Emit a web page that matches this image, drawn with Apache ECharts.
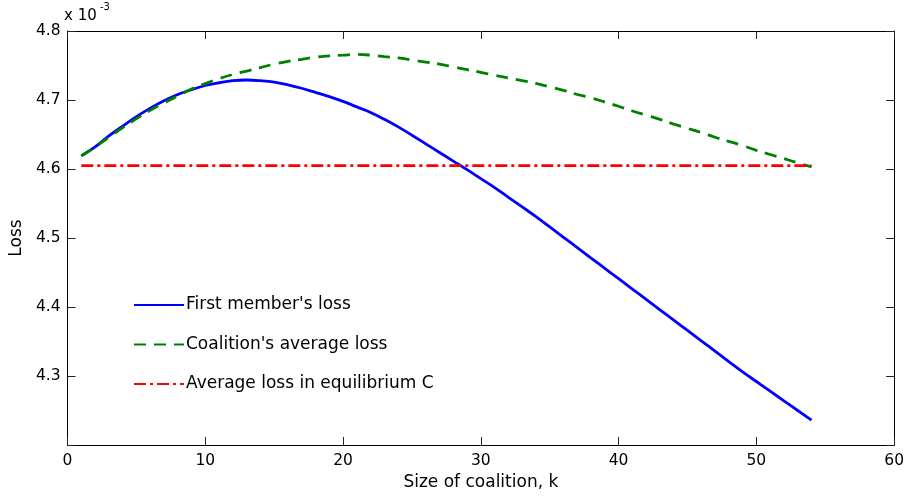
<!DOCTYPE html>
<html>
<head>
<meta charset="utf-8">
<script src="https://cdn.jsdelivr.net/npm/echarts@6/dist/echarts.min.js"></script>
<style>
html,body{margin:0;padding:0;background:#fff;}
#chart{width:907px;height:496px;}
</style>
</head>
<body>
<div id="chart"></div>
<script>
// coalition sizes k = 1..54
const kValues = [1,2,3,4,5,6,7,8,9,10,11,12,13,14,15,16,17,18,19,20,21,22,23,24,25,26,27,
  28,29,30,31,32,33,34,35,36,37,38,39,40,41,42,43,44,45,46,47,48,49,50,51,52,53,54];
// values in units of 1e-3
const firstMemberLoss = [4.619,4.632,4.648,4.662,4.676,4.688,4.699,4.708,4.715,4.721,4.725,4.728,4.729,
  4.728,4.726,4.722,4.717,4.711,4.705,4.698,4.690,4.682,4.672,4.661,4.649,4.6365,4.624,4.6115,4.599,
  4.586,4.573,4.559,4.545,4.531,4.516,4.501,4.486,4.471,4.456,4.441,4.426,4.411,4.396,4.381,4.366,
  4.351,4.336,4.321,4.306,4.292,4.278,4.264,4.250,4.236];
const coalitionAvgLoss = [4.619,4.632,4.646,4.660,4.673,4.685,4.696,4.706,4.716,4.724,4.731,4.737,4.742,
  4.747,4.752,4.756,4.759,4.762,4.764,4.765,4.766,4.765,4.763,4.761,4.758,4.755,4.752,4.748,4.744,
  4.740,4.736,4.732,4.728,4.724,4.719,4.714,4.708,4.703,4.697,4.691,4.684,4.678,4.672,4.665,4.659,
  4.653,4.646,4.640,4.634,4.627,4.621,4.615,4.609,4.603];
const equilibriumLoss = 4.605;
const seriesNames = ["First member's loss", "Coalition's average loss", "Average loss in equilibrium C"];
const xTicks = {min: 0, max: 60, interval: 10};
const yTicks = {min: 4.2, max: 4.8, interval: 0.1};

const FONT = '"DejaVu Sans", sans-serif';
const pair = arr => kValues.map((k, i) => [k, arr[i]]);
const eqArr = kValues.map(() => equilibriumLoss);

const chart = echarts.init(document.getElementById('chart'), null, {renderer: 'canvas'});
const axisLine = {show: true, onZero: false, lineStyle: {color: '#000', width: 1}};
const tick = {show: true, inside: true, length: 8, lineStyle: {color: '#222', width: 1}};
chart.setOption({
  animation: false,
  backgroundColor: '#fff',
  grid: {left: 64, right: 12, top: 31, bottom: 48, containLabel: false},
  xAxis: [{
    type: 'value', min: xTicks.min, max: xTicks.max, interval: xTicks.interval,
    axisLine: axisLine, axisTick: tick, splitLine: {show: false},
    axisLabel: {color: '#000', fontFamily: FONT, fontSize: 15.5, margin: 8},
    name: 'Size of coalition, k', nameLocation: 'middle', nameGap: 29,
    nameTextStyle: {color: '#000', fontFamily: FONT, fontSize: 17}
  }, {
    type: 'value', position: 'top', min: xTicks.min, max: xTicks.max, interval: xTicks.interval,
    axisLine: axisLine, axisTick: tick, axisLabel: {show: false}, splitLine: {show: false}
  }],
  yAxis: [{
    type: 'value', min: yTicks.min, max: yTicks.max, interval: yTicks.interval,
    axisLine: axisLine, axisTick: tick, splitLine: {show: false},
    axisLabel: {color: '#000', fontFamily: FONT, fontSize: 15.5, margin: 7,
      formatter: v => (Math.abs(v - yTicks.min) < 1e-9 ? '' : v.toFixed(1))},
    name: 'Loss', nameLocation: 'middle', nameGap: 41,
    nameTextStyle: {color: '#000', fontFamily: FONT, fontSize: 17}
  }, {
    type: 'value', position: 'right', min: yTicks.min, max: yTicks.max, interval: yTicks.interval,
    axisLine: axisLine, axisTick: tick, axisLabel: {show: false}, splitLine: {show: false}
  }],
  legend: {
    orient: 'vertical', left: 128, top: 290, itemWidth: 50, itemHeight: 20, itemGap: 19.5,
    itemStyle: {opacity: 0},
    textStyle: {color: '#000', fontFamily: FONT, fontSize: 17, lineHeight: 20, padding: [0,0,0,-3]},
    data: seriesNames
  },
  graphic: [
    {type: 'text', left: 64, top: 9, style: {text: 'x 10', fontFamily: FONT, fontSize: 15, fill: '#000'}},
    {type: 'text', left: 100, top: 2, style: {text: '-3', fontFamily: FONT, fontSize: 10, fill: '#000'}}
  ],
  series: [{
    name: seriesNames[0], type: 'line', data: pair(firstMemberLoss), symbol: 'none', smooth: 0.4,
    lineStyle: {color: '#0000ff', width: 2.8, type: 'solid'}, itemStyle: {color: '#0000ff'}
  }, {
    name: seriesNames[1], type: 'line', data: pair(coalitionAvgLoss), symbol: 'none', smooth: 0.4,
    lineStyle: {color: '#008000', width: 2.8, type: [12, 8]}, itemStyle: {color: '#008000'}
  }, {
    name: seriesNames[2], type: 'line', data: pair(eqArr), symbol: 'none',
    lineStyle: {color: '#ff0000', width: 2.8, type: [12, 4, 3, 4]}, itemStyle: {color: '#ff0000'}
  }]
});
</script>
</body>
</html>
